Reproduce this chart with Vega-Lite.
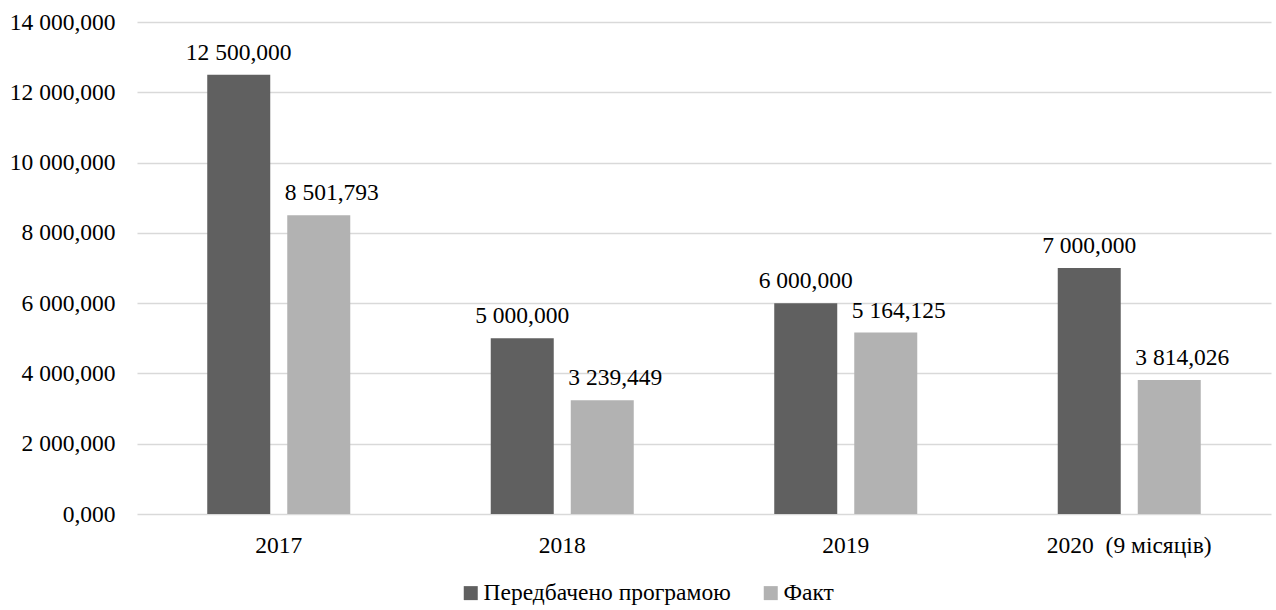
{
  "$schema": "https://vega.github.io/schema/vega-lite/v6.json",
  "autosize": "none",
  "width": 1134,
  "height": 492,
  "padding": {"left": 137, "top": 22, "right": 5, "bottom": 96},
  "background": "white",
  "config": {
    "locale": {"number": {"decimal": ",", "thousands": " ", "grouping": [3], "currency": ["", ""]}},
    "font": "Liberation Serif, Times New Roman, serif",
    "view": {"stroke": null},
    "axis": {"labelFont": "Liberation Serif, Times New Roman, serif", "labelColor": "#000000", "labelFontSize": 23.5},
    "text": {"font": "Liberation Serif, Times New Roman, serif"}
  },
  "data": {
    "values": [
      {"year": "2017", "series": "Передбачено програмою", "value": 12500},
      {"year": "2017", "series": "Факт", "value": 8501.793},
      {"year": "2018", "series": "Передбачено програмою", "value": 5000},
      {"year": "2018", "series": "Факт", "value": 3239.449},
      {"year": "2019", "series": "Передбачено програмою", "value": 6000},
      {"year": "2019", "series": "Факт", "value": 5164.125},
      {"year": "2020\u00a0 (9 місяців)", "series": "Передбачено програмою", "value": 7000},
      {"year": "2020\u00a0 (9 місяців)", "series": "Факт", "value": 3814.026}
    ]
  },
  "encoding": {
    "x": {
      "field": "year", "type": "nominal", "sort": null,
      "scale": {"paddingInner": 0, "paddingOuter": 0},
      "axis": {"title": null, "labelAngle": 0, "ticks": false, "domain": false, "labelPadding": 19, "grid": false, "labelLimit": 0}
    },
    "xOffset": {
      "field": "series", "type": "nominal",
      "sort": ["Передбачено програмою", "Факт"],
      "scale": {"paddingInner": 0.2125, "paddingOuter": 0.878}
    },
    "y": {
      "field": "value", "type": "quantitative",
      "scale": {"domain": [0, 14000], "nice": false},
      "axis": {"title": null, "values": [0, 2000, 4000, 6000, 8000, 10000, 12000, 14000], "format": ",.3f", "ticks": false, "domain": false, "labelPadding": 22, "gridColor": "#d9d9d9", "gridWidth": 1.5}
    }
  },
  "layer": [
    {
      "mark": {"type": "bar"},
      "encoding": {
        "color": {
          "field": "series", "type": "nominal",
          "scale": {"domain": ["Передбачено програмою", "Факт"], "range": ["#606060", "#b2b2b2"]},
          "legend": {
            "title": null, "orient": "none", "direction": "horizontal",
            "legendX": 322, "legendY": 559,
            "symbolType": "square", "symbolSize": 196, "symbolStrokeWidth": 0,
            "labelFont": "Liberation Serif, Times New Roman, serif", "labelFontSize": 23.5, "labelColor": "#000000",
            "labelOffset": 1, "columnPadding": 28, "labelLimit": 0
          }
        }
      }
    },
    {
      "transform": [{"filter": "datum.series === 'Передбачено програмою'"}],
      "mark": {"type": "text", "dy": -15, "baseline": "alphabetic", "fontSize": 23.5, "font": "Liberation Serif, Times New Roman, serif", "color": "#000000"},
      "encoding": {
        "text": {"field": "value", "type": "quantitative", "format": ",.3f"}
      }
    },
    {
      "transform": [{"filter": "datum.series === 'Факт'"}],
      "mark": {"type": "text", "dy": -15, "dx": 13, "baseline": "alphabetic", "fontSize": 23.5, "font": "Liberation Serif, Times New Roman, serif", "color": "#000000"},
      "encoding": {
        "text": {"field": "value", "type": "quantitative", "format": ",.3f"}
      }
    }
  ]
}
